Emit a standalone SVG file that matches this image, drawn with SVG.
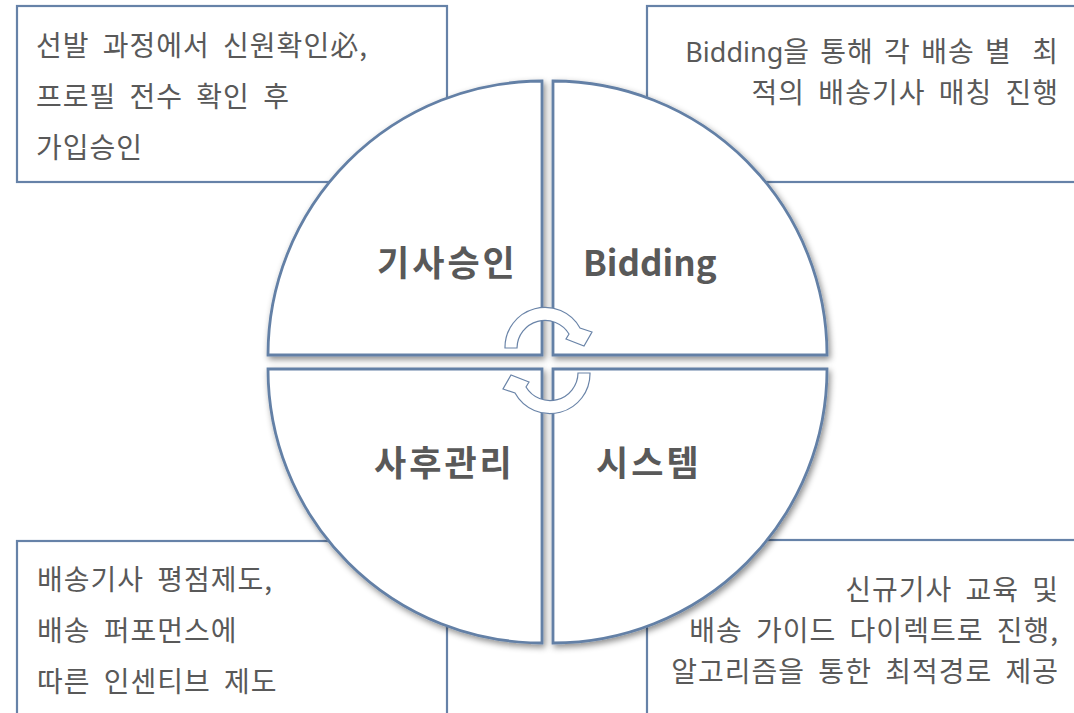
<svg xmlns="http://www.w3.org/2000/svg" width="1074" height="713" viewBox="0 0 1074 713">
<defs>
<filter id="sh" x="-10%" y="-10%" width="120%" height="120%">
<feDropShadow dx="2" dy="3" stdDeviation="3" flood-color="#000" flood-opacity="0.45"/>
</filter>
<style>
.box{fill:#fff;stroke:#6682a8;stroke-width:2.2}
.q{fill:#fff;stroke:#6480a6;stroke-width:2.8;filter:url(#sh)}
.t{font-family:"Noto Sans CJK KR","Noto Sans",sans-serif;font-size:28px;fill:#595959;word-spacing:6px;letter-spacing:1px}
.r{text-anchor:end}
.lat{font-family:"Noto Sans","Noto Sans CJK KR",sans-serif;font-size:27px;letter-spacing:0}
.lb{font-family:"Noto Sans CJK KR","Noto Sans",sans-serif;font-size:35px;font-weight:bold;fill:#595959;letter-spacing:3px}
.arr{fill:#fff;stroke:#6a84a8;stroke-width:1.2}
</style>
</defs>
<rect width="1074" height="713" fill="#fff"/>
<g id="box-tl">
<rect class="box" x="17" y="6" width="430" height="176"/>
<text class="t" x="36" y="56">선발 과정에서 신원확인必,</text>
<text class="t" x="36" y="107">프로필 전수 확인 후</text>
<text class="t" x="36" y="158">가입승인</text>
</g>
<g id="box-tr">
<rect class="box" x="647" y="6" width="440" height="176"/>
<text class="t r" x="1059" y="62" style="word-spacing:3px" xml:space="preserve"><tspan class="lat">Bidding</tspan>을 통해 각 배송 별  최</text>
<text class="t r" x="1059" y="103">적의 배송기사 매칭 진행</text>
</g>
<g id="box-bl">
<rect class="box" x="17" y="541" width="430" height="190"/>
<text class="t" x="37" y="590">배송기사 평점제도,</text>
<text class="t" x="37" y="641">배송 퍼포먼스에</text>
<text class="t" x="37" y="692">따른 인센티브 제도</text>
</g>
<g id="box-br">
<rect class="box" x="647" y="540" width="440" height="190"/>
<text class="t r" x="1059" y="600">신규기사 교육 및</text>
<text class="t r" x="1059" y="641">배송 가이드 다이렉트로 진행,</text>
<text class="t r" x="1059" y="682">알고리즘을 통한 최적경로 제공</text>
</g>
<g id="q-tl">
<path class="q" d="M542 355 L268 355 A274 274 0 0 1 542 81 Z"/>
<text class="lb" x="377" y="276">기사승인</text>
</g>
<g id="q-tr">
<path class="q" d="M553 355 L553 81 A274 274 0 0 1 827 355 Z"/>
<text class="lb" x="583" y="276" style="letter-spacing:0">Bidding</text>
</g>
<g id="q-br">
<path class="q" d="M553 369 L827 369 A274 274 0 0 1 553 643 Z"/>
<text class="lb" x="596" y="476">시스템</text>
</g>
<g id="q-bl">
<path class="q" d="M542 369 L542 643 A274 274 0 0 1 268 369 Z"/>
<text class="lb" x="374" y="476">사후관리</text>
</g>
<g id="connectors">
<path class="arr" d="M505 348 A40 40 0 0 1 580 328 L592 332 L584 346 L566 339 L569 334 A28 28 0 0 0 517 348 Z"/>
<path class="arr" transform="rotate(180 547.5 360.5)" d="M505 348 A40 40 0 0 1 580 328 L592 332 L584 346 L566 339 L569 334 A28 28 0 0 0 517 348 Z"/>
</g>
</svg>
